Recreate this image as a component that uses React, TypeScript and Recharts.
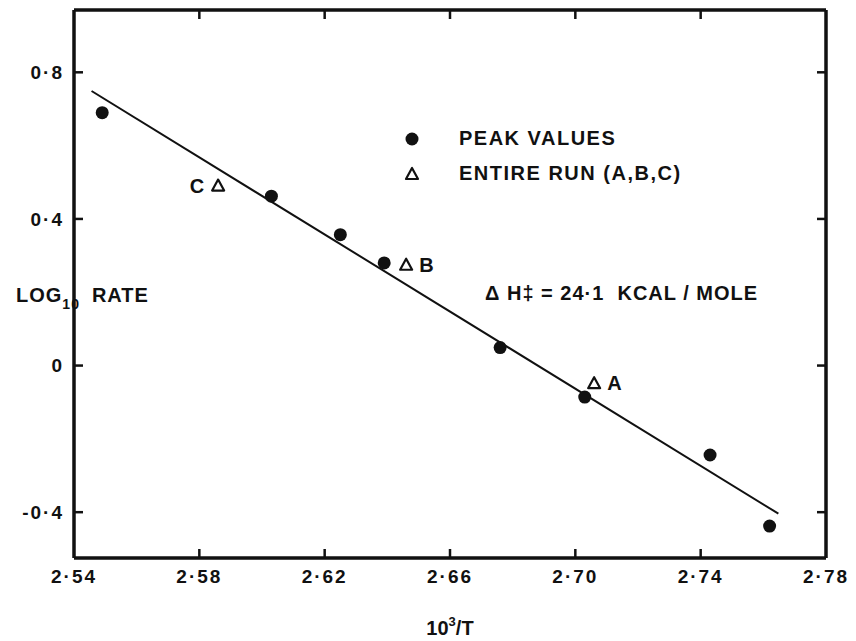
import React from 'react';
import { ScatterChart, Scatter, XAxis, YAxis, Legend, LabelList } from 'recharts';

// values
const xTicks = [2.54, 2.58, 2.62, 2.66, 2.7, 2.74, 2.78];
const innerXTicks = [2.58, 2.62, 2.66, 2.7, 2.74];
const yTicks = [-0.4, 0, 0.4, 0.8];

const peakX = [2.549, 2.603, 2.625, 2.639, 2.676, 2.703, 2.743, 2.762];
const peakY = [0.69, 0.462, 0.357, 0.28, 0.049, -0.086, -0.244, -0.438];

const runX = [2.586, 2.646, 2.706];
const runY = [0.491, 0.275, -0.048];
const runNames = ['C', 'B', 'A'];

const fitX = [2.5456, 2.7648];
const fitY = [0.749, -0.404];

const seriesNames = ['PEAK VALUES', 'ENTIRE RUN  (A,B,C)'];

const peakData = peakX.map((x, i) => ({ x, y: peakY[i] }));
const runData = runX.map((x, i) => ({ x, y: runY[i], run: runNames[i] }));
const fitData = fitX.map((x, i) => ({ x, y: fitY[i] }));

const FONT = '"Liberation Sans", Arial, sans-serif';
const INK = '#111';

const fmtX = (v: number) => v.toFixed(2).replace('.', '·');
const fmtY = (v: number) => (v === 0 ? '0' : v.toFixed(1).replace('.', '·'));
const blank = () => '';

const Dot = (props: any) => <circle cx={props.cx} cy={props.cy} r={6.5} fill={INK} />;

const Tri = (props: any) => {
  const { cx, cy } = props;
  return (
    <polygon
      points={`${cx},${cy - 6} ${cx - 6},${cy + 5} ${cx + 6},${cy + 5}`}
      fill="#fff"
      stroke={INK}
      strokeWidth={2.2}
      strokeLinejoin="round"
    />
  );
};

const RunLabel = (props: any) => {
  const { x, y, width, height, value } = props;
  const cx = x + width / 2;
  const cy = y + height / 2;
  const left = value === 'C';
  return (
    <text
      x={left ? cx - 14 : cx + 13}
      y={cy + 7}
      textAnchor={left ? 'end' : 'start'}
      fontSize={20}
      fontWeight={700}
      fill={INK}
      fontFamily={FONT}
    >
      {value}
    </text>
  );
};

const renderLegend = (props: any) => {
  const items = (props.payload || [])
    .filter((p: any) => seriesNames.includes(p.value))
    .sort((a: any, b: any) => seriesNames.indexOf(a.value) - seriesNames.indexOf(b.value));
  return (
    <div style={{ fontFamily: FONT, fontWeight: 700, fontSize: 20, color: INK, letterSpacing: 1.5 }}>
      {items.map((p: any, i: number) => (
        <div key={i} style={{ display: 'flex', alignItems: 'center', height: 35 }}>
          <svg width={24} height={20} style={{ marginRight: 35 }}>
            {p.value === seriesNames[0] ? (
              <circle cx={12} cy={10} r={6.5} fill={INK} />
            ) : (
              <polygon points="12,4 6,15 18,15" fill="#fff" stroke={INK} strokeWidth={2.2} strokeLinejoin="round" />
            )}
          </svg>
          <span>{p.value}</span>
        </div>
      ))}
    </div>
  );
};

const tickStyle = { fontSize: 19, fontWeight: 700, fill: INK, fontFamily: FONT, letterSpacing: 2 };
const frameLine = { stroke: INK, strokeWidth: 3.5 };
const innerTick = { stroke: INK, strokeWidth: 2.5 };

export default function App() {
  return (
    <div style={{ position: 'absolute', left: 0, top: 0, width: 856, height: 641, background: '#fff', fontFamily: FONT }}>
      <ScatterChart width={856} height={641} margin={{ top: 10, right: 30, bottom: 3, left: 14 }}>
        {/* label axes */}
        <XAxis
          xAxisId="b"
          type="number"
          dataKey="x"
          domain={[2.54, 2.78]}
          ticks={xTicks}
          allowDataOverflow
          height={80}
          axisLine={false}
          tickLine={false}
          tickSize={6}
          tickMargin={6}
          tick={tickStyle}
          tickFormatter={fmtX}
          label={{
            content: (p: any) => {
              const vb = p.viewBox;
              return (
                <text x={vb.x + vb.width / 2} y={vb.y + 77} textAnchor="middle" fontSize={20} fontWeight={700} fill={INK} fontFamily={FONT}>
                  10<tspan dy={-9} fontSize={13}>3</tspan><tspan dy={9}>/T</tspan>
                </text>
              );
            },
          }}
        />
        <YAxis
          yAxisId="l"
          type="number"
          dataKey="y"
          domain={[-0.525, 0.97]}
          ticks={yTicks}
          allowDataOverflow
          width={60}
          axisLine={false}
          tickLine={false}
          tickSize={6}
          tickMargin={4}
          tick={tickStyle}
          tickFormatter={fmtY}
          label={{
            content: (p: any) => {
              const vb = p.viewBox;
              return (
                <text x={vb.x + 2} y={vb.y + 292} fontSize={20} fontWeight={700} fill={INK} fontFamily={FONT} letterSpacing={1}>
                  LOG<tspan dy={7} fontSize={14}>10</tspan><tspan dy={-7} dx={12}>RATE</tspan>
                </text>
              );
            },
          }}
        />
        {/* frame with inward ticks */}
        <XAxis xAxisId="bm" type="number" dataKey="x" domain={[2.54, 2.78]} ticks={innerXTicks} allowDataOverflow mirror
          tickFormatter={blank} tickSize={9} axisLine={frameLine} tickLine={innerTick} />
        <XAxis xAxisId="t" orientation="top" type="number" dataKey="x" domain={[2.54, 2.78]} ticks={innerXTicks} allowDataOverflow mirror
          tickFormatter={blank} tickSize={9} axisLine={frameLine} tickLine={innerTick} />
        <YAxis yAxisId="lm" type="number" dataKey="y" domain={[-0.525, 0.97]} ticks={yTicks} allowDataOverflow mirror
          tickFormatter={blank} tickSize={9} axisLine={frameLine} tickLine={innerTick} />
        <YAxis yAxisId="r" orientation="right" type="number" dataKey="y" domain={[-0.525, 0.97]} ticks={yTicks} allowDataOverflow mirror
          tickFormatter={blank} tickSize={9} axisLine={frameLine} tickLine={innerTick} />

        <Legend layout="vertical" align="center" verticalAlign="middle" content={renderLegend}
          wrapperStyle={{ left: 400, top: 121, width: 'auto' }} />

        <Scatter xAxisId="b" yAxisId="l" data={fitData} line={{ stroke: INK, strokeWidth: 2 }} shape={() => null}
          legendType="none" isAnimationActive={false} />
        <Scatter xAxisId="b" yAxisId="l" name={seriesNames[0]} data={peakData} shape={Dot} fill={INK} isAnimationActive={false} />
        <Scatter xAxisId="b" yAxisId="l" name={seriesNames[1]} data={runData} shape={Tri} fill="#fff" isAnimationActive={false}>
          <LabelList dataKey="run" content={RunLabel} />
        </Scatter>
      </ScatterChart>
      <div style={{ position: 'absolute', left: 485, top: 282, fontWeight: 700, fontSize: 20, color: INK, letterSpacing: 1, whiteSpace: 'pre' }}>
        {'Δ H‡ = 24·1  KCAL / MOLE'}
      </div>
    </div>
  );
}
